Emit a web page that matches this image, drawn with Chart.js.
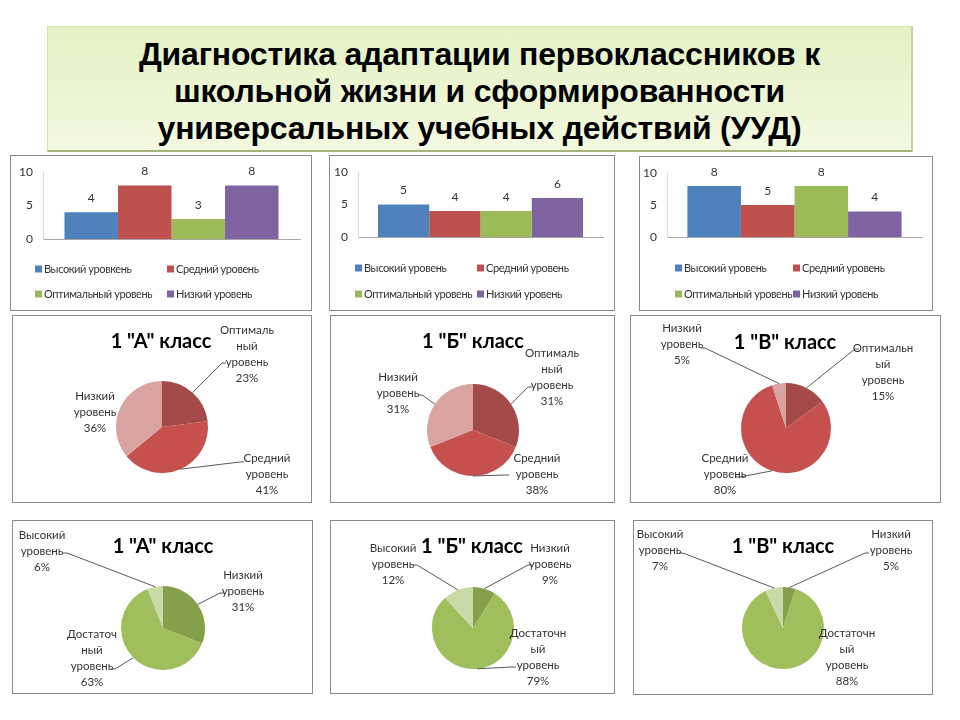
<!DOCTYPE html>
<html><head><meta charset="utf-8">
<script src="https://cdn.jsdelivr.net/npm/chart.js@4/dist/chart.umd.min.js"></script>
<style>
body{margin:0;background:#fff;width:960px;height:720px;position:relative;overflow:hidden;font-family:Lato,sans-serif}
canvas.panel{position:absolute;outline:1px solid #8a8a8a;outline-offset:-1px;background:#fff}
#title{position:absolute;left:47px;top:26px;width:866px;height:126px;box-sizing:border-box;
 background:linear-gradient(#e4f1c4,#f3f9e0);border:1px solid #d3e4ad;border-bottom:2px solid #a5b47c;border-right:2px solid #c5d2a2;
 font-family:'Liberation Sans',Arial,sans-serif;font-weight:bold;font-size:32px;line-height:37px;text-align:center;color:#000;padding-top:9px;letter-spacing:-0.2px}
</style></head>
<body>
<div id="title"><div>Диагностика адаптации первоклассников к</div><div>школьной жизни и сформированности</div><div>универсальных учебных действий (УУД)</div></div>
<canvas class="panel" id="b1" width="302" height="156" style="left:10px;top:155px"></canvas>
<canvas class="panel" id="b2" width="286" height="156" style="left:329px;top:155px"></canvas>
<canvas class="panel" id="b3" width="294" height="155" style="left:639px;top:156px"></canvas>
<canvas class="panel" id="p1" width="300" height="188" style="left:12px;top:315px"></canvas>
<canvas class="panel" id="p2" width="285" height="188" style="left:330px;top:315px"></canvas>
<canvas class="panel" id="p3" width="311" height="188" style="left:630px;top:315px"></canvas>
<canvas class="panel" id="p4" width="301" height="174" style="left:12px;top:520px"></canvas>
<canvas class="panel" id="p5" width="285" height="174" style="left:330px;top:520px"></canvas>
<canvas class="panel" id="p6" width="300" height="175" style="left:633px;top:520px"></canvas>
<script>
// ---------- DATA ----------
const barSeriesA = ['Высокий уровкень', 'Средний уровень', 'Оптимальный уровень', 'Низкий уровень'];
const barSeries = ['Высокий уровень', 'Средний уровень', 'Оптимальный уровень', 'Низкий уровень'];
const barValuesA = [4, 8, 3, 8];
const barValuesB = [5, 4, 4, 6];
const barValuesV = [8, 5, 8, 4];
const barTicks = [0, 5, 10];

const classTitles = ['1 "А" класс', '1 "Б" класс', '1 "В" класс'];

const adaptCategories = ['Оптимальный уровень', 'Средний уровень', 'Низкий уровень'];
const adaptA = [23, 41, 36];
const adaptB = [31, 38, 31];
const adaptV = [15, 80, 5];

const uudCategories = ['Низкий уровень', 'Достаточный уровень', 'Высокий уровень'];
const uudA = [31, 63, 6];
const uudB = [9, 79, 12];
const uudV = [5, 88, 7];

// ---------- STYLE ----------
const barColors = ['#4f81bd', '#c0504d', '#9bbb59', '#8064a2'];
const adaptColors = ['#a44a48', '#c5504e', '#d9a3a2'];
const uudColors = ['#84a04a', '#9fbf5c', '#c9daa9'];
const textColor = '#333333';
const lblFont = '11.5px Lato';
const legFont = '11px Lato';

function wrapLabel(name, n) {
  const out = [];
  name.split(' ').forEach(w => { while (w.length > n) { out.push(w.slice(0, n)); w = w.slice(n); } out.push(w); });
  return out;
}

const barDeco = {
  id: 'barDeco',
  afterDatasetsDraw(chart, args, opts) {
    const ctx = chart.ctx;
    ctx.save();
    ctx.font = '12px Lato'; ctx.fillStyle = textColor; ctx.textAlign = 'center'; ctx.textBaseline = 'middle';
    chart.data.datasets.forEach((ds, i) => {
      const el = chart.getDatasetMeta(i).data[0];
      ctx.fillText(String(ds.data[0]), el.x, el.y - 14);
    });
    // legend
    ctx.textAlign = 'left'; ctx.font = legFont;
    if ('letterSpacing' in ctx) ctx.letterSpacing = '-0.4px';
    chart.data.datasets.forEach((ds, i) => {
      const x = opts.cols[i % 2], y = opts.rows[Math.floor(i / 2)];
      ctx.fillStyle = ds.backgroundColor;
      ctx.fillRect(x, y - 3.5, 7, 7);
      ctx.fillStyle = textColor;
      ctx.fillText(ds.label, x + 9, y);
    });
    ctx.restore();
  }
};

function makeBar(id, names, values, L) {
  new Chart(document.getElementById(id), {
    type: 'bar',
    data: {
      labels: [''],
      datasets: names.map((n, i) => ({ label: n, data: [values[i]], backgroundColor: barColors[i], borderWidth: 0, categoryPercentage: L.cat, barPercentage: 1 }))
    },
    options: {
      responsive: false, animation: false, events: [],
      layout: { padding: { left: 0, right: L.padR, top: L.padT, bottom: L.padB } },
      scales: {
        x: { grid: { display: false, drawTicks: false }, ticks: { display: false }, border: { color: '#a6a6a6' }, afterFit(s) { s.height = 0; } },
        y: { min: 0, max: 10, afterBuildTicks(s) { s.ticks = barTicks.map(v => ({ value: v })); },
             grid: { display: false, drawTicks: false }, border: { color: '#dadada' },
             ticks: { font: { family: 'Lato', size: 12 }, color: textColor, padding: 10 },
             afterFit(s) { s.width = L.axisW; } }
      },
      plugins: { legend: { display: false }, tooltip: { enabled: false }, barDeco: { cols: L.cols, rows: L.rows } }
    },
    plugins: [barDeco]
  });
}

makeBar('b1', barSeriesA, barValuesA, { axisW: 33, padR: 12, padT: 17, padB: 72, cat: 0.833, cols: [25, 157], rows: [114, 139] });
makeBar('b2', barSeries, barValuesB, { axisW: 29, padR: 12, padT: 17, padB: 74, cat: 0.837, cols: [26, 148], rows: [113, 139] });
makeBar('b3', barSeries, barValuesV, { axisW: 28, padR: 11, padT: 16, padB: 74, cat: 0.84, cols: [36, 154], rows: [112, 138] });

const pieDeco = {
  id: 'pieDeco',
  afterDatasetsDraw(chart, args, o) {
    const ctx = chart.ctx;
    const meta = chart.getDatasetMeta(0);
    ctx.save();
    ctx.font = 'bold 20px Lato'; ctx.fillStyle = '#000'; ctx.textAlign = 'center'; ctx.textBaseline = 'middle';
    ctx.fillText(o.title, o.tx, o.ty);
    ctx.font = lblFont;
    meta.data.forEach((arc, i) => {
      const L = o.labels[i];
      const cx = arc.x, cy = arc.y;
      if (L.ax !== undefined) {
        const mid = (arc.startAngle + arc.endAngle) / 2;
        const px = cx + Math.cos(mid) * arc.outerRadius, py = cy + Math.sin(mid) * arc.outerRadius;
        ctx.strokeStyle = '#595959'; ctx.lineWidth = 1;
        ctx.beginPath(); ctx.moveTo(px, py); ctx.lineTo(cx + L.ax, cy + L.ay);
        ctx.lineTo(cx + L.ax + (L.ax > 0 ? 4 : -4), cy + L.ay); ctx.stroke();
      }
      const lines = wrapLabel(chart.data.labels[i], o.wrap).concat([chart.data.datasets[0].data[i] + '%']);
      ctx.fillStyle = textColor;
      lines.forEach((t, k) => ctx.fillText(t, cx + L.x, cy + L.y + k * 16));
    });
    ctx.restore();
  }
};

function makePie(id, cats, values, colors, P) {
  const c = document.getElementById(id);
  const W = c.width, H = c.height;
  new Chart(c, {
    type: 'pie',
    data: { labels: cats, datasets: [{ data: values, backgroundColor: colors, borderWidth: 0, hoverOffset: 0, offset: 0 }] },
    options: {
      responsive: false, animation: false, events: [],
      layout: { padding: { left: P.cx - P.r, right: W - P.cx - P.r, top: P.cy - P.r, bottom: H - P.cy - P.r } },
      plugins: { legend: { display: false }, tooltip: { enabled: false },
        pieDeco: { title: P.title, tx: P.tx, ty: P.ty, wrap: P.wrap, labels: P.labels } }
    },
    plugins: [pieDeco]
  });
}

makePie('p1', adaptCategories, adaptA, adaptColors, { cx: 150, cy: 112, r: 46, title: classTitles[0], tx: 149, ty: 27, wrap: 8,
  labels: [{ x: 85, y: -97, ax: 60, ay: -64 }, { x: 105, y: 31, ax: 78, ay: 35 }, { x: -67, y: -31 }] });
makePie('p2', adaptCategories, adaptB, adaptColors, { cx: 143, cy: 115, r: 46, title: classTitles[1], tx: 143, ty: 27, wrap: 8,
  labels: [{ x: 79, y: -77, ax: 55, ay: -43 }, { x: 64, y: 28, ax: 32, ay: 45 }, { x: -75, y: -53, ax: -51, ay: -35 }] });
makePie('p3', adaptCategories, adaptV, adaptColors, { cx: 156, cy: 113, r: 45, title: classTitles[2], tx: 155, ty: 28, wrap: 9,
  labels: [{ x: 97, y: -80, ax: 69, ay: -79 }, { x: -61, y: 30, ax: -46, ay: 49 }, { x: -104, y: -100, ax: -81, ay: -80 }] });
makePie('p4', uudCategories, uudA, uudColors, { cx: 151, cy: 108, r: 42, title: classTitles[0], tx: 151, ty: 27, wrap: 8,
  labels: [{ x: 80, y: -53, ax: 57, ay: -35 }, { x: -71, y: 6, ax: -48, ay: 41 }, { x: -121, y: -93, ax: -96, ay: -75 }] });
makePie('p5', uudCategories, uudB, uudColors, { cx: 143, cy: 108, r: 41, title: classTitles[1], tx: 142, ty: 27, wrap: 9,
  labels: [{ x: 77, y: -80, ax: 55, ay: -63 }, { x: 65, y: 5, ax: 39, ay: 39 }, { x: -80, y: -80, ax: -56, ay: -63 }] });
makePie('p6', uudCategories, uudV, uudColors, { cx: 150, cy: 108, r: 41, title: classTitles[2], tx: 150, ty: 27, wrap: 9,
  labels: [{ x: 108, y: -94, ax: 82, ay: -75 }, { x: 64, y: 5 }, { x: -123, y: -94, ax: -100, ay: -75 }] });
</script>
</body></html>
